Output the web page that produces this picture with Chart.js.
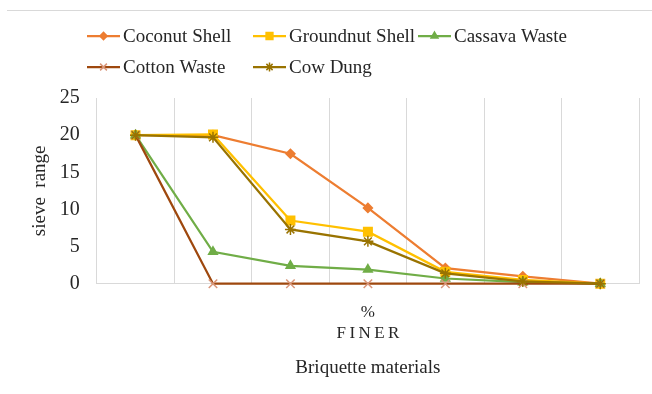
<!DOCTYPE html>
<html>
<head>
<meta charset="utf-8">
<script src="https://cdn.jsdelivr.net/npm/chart.js@4/dist/chart.umd.min.js"></script>
<style>
    body { margin: 0; background: #ffffff; }
    #wrap { position: relative; width: 652px; height: 394px; }
    #top-rule { position: absolute; left: 7px; right: 0; top: 10px; border-top: 1px solid #d9d9d9; }
</style>
</head>
<body>
<div id="wrap">
    <div id="top-rule"></div>
    <canvas id="sieveChart" width="652" height="394"></canvas>
</div>
<script>
"use strict"

// sieve positions (no labels printed under the axis)
let sieveLabels = ['', '', '', '', '', '', ''];

// series values, one per material
let coconutShell = [20, 20, 17.5, 10.2, 2.1, 1.0, 0];
let groundnutShell = [20, 20.1, 8.5, 7.0, 1.6, 0.5, 0];
let cassavaWaste = [20, 4.3, 2.4, 1.9, 0.7, 0.2, 0];
let cottonWaste = [20, 0, 0, 0, 0, 0, 0];
let cowDung = [20, 19.7, 7.3, 5.7, 1.4, 0.3, 0];

// y axis
let yMin = 0;
let yMax = 25;
let yStep = 5;

let serif = "'Liberation Serif', 'Times New Roman', serif";

function makeSeries(label, data, line, marker, style, radius, order)
{
    return {
        label: label,
        data: data,
        borderColor: line,
        backgroundColor: marker,
        pointBackgroundColor: marker,
        pointBorderColor: marker,
        pointStyle: style,
        pointRadius: radius,
        pointBorderWidth: 1.5,
        borderWidth: 2.25,
        tension: 0,
        clip: false,
        order: order
    };
}

let datasets = [
    makeSeries('Coconut Shell', coconutShell, '#ED7D31', '#ED7D31', 'rectRot', 4.5, 4),
    makeSeries('Groundnut Shell', groundnutShell, '#FFC000', '#FFC000', 'rect', 6, 3),
    makeSeries('Cassava Waste', cassavaWaste, '#70AD47', '#70AD47', 'triangle', 5, 2),
    makeSeries('Cotton Waste', cottonWaste, '#9E480E', '#D9967A', 'crossRot', 6, 1),
    makeSeries('Cow Dung', cowDung, '#997300', '#997300', 'star', 5.5, 0)
];

// legend drawn in two rows, Excel style (line through marker)
let legendPlugin = {
    id: 'rowLegend',
    afterDraw: function(chart, args, opts) {
        let ctx = chart.ctx;
        let sets = chart.data.datasets;
        ctx.save();
        ctx.font = opts.size + "px " + serif;
        ctx.textBaseline = 'middle';
        ctx.textAlign = 'left';
        for (let i = 0; i < sets.length; i++)
        {
            let ds = sets[i];
            let x = opts.cols[i % opts.cols.length];
            let y = opts.rows[Math.floor(i / opts.cols.length)];
            ctx.strokeStyle = ds.borderColor;
            ctx.lineWidth = 2.25;
            ctx.beginPath();
            ctx.moveTo(x, y);
            ctx.lineTo(x + opts.lineLength, y);
            ctx.stroke();
            ctx.fillStyle = ds.pointBackgroundColor;
            ctx.strokeStyle = ds.pointBorderColor;
            ctx.lineWidth = 1.5;
            Chart.helpers.drawPoint(ctx, {
                pointStyle: ds.pointStyle,
                radius: ds.pointRadius * 0.8,
                rotation: 0,
                borderWidth: 1.5
            }, x + opts.lineLength / 2, y);
            ctx.fillStyle = '#262626';
            ctx.fillText(ds.label, x + opts.lineLength + 3, y + 1);
        }
        ctx.restore();
    }
};

let ctx = document.getElementById('sieveChart').getContext('2d');
let sieveChart = new Chart(ctx, {
    type: 'line',
    data: {
        labels: sieveLabels,
        datasets: datasets
    },
    plugins: [legendPlugin],
    options: {
        responsive: false,
        animation: false,
        layout: {
            padding: { top: 98, left: 25, right: 13, bottom: 15 }
        },
        plugins: {
            legend: { display: false },
            tooltip: { enabled: false },
            title: {
                display: true,
                fullSize: false,
                position: 'bottom',
                text: 'Briquette materials',
                color: '#262626',
                font: { family: serif, size: 19, weight: 'normal', lineHeight: 1.2 },
                padding: { top: 10, bottom: 0 }
            },
            rowLegend: {
                size: 19,
                cols: [87, 253, 418],
                rows: [36, 67],
                lineLength: 33
            }
        },
        scales: {
            x: {
                offset: true,
                grid: { color: '#d9d9d9', drawTicks: false, offset: true },
                border: { color: '#d9d9d9' },
                ticks: { display: false },
                title: {
                    display: true,
                    text: ['%', 'F\u2009I\u2009N\u2009E\u2009R'],
                    color: '#262626',
                    font: { family: serif, size: 17, lineHeight: 1.25 },
                    padding: { top: 18, bottom: 2 }
                }
            },
            y: {
                min: yMin,
                max: yMax,
                grid: { display: false, drawTicks: false },
                border: { display: false },
                ticks: {
                    stepSize: yStep,
                    padding: 17,
                    color: '#262626',
                    font: { family: serif, size: 20 }
                },
                title: {
                    display: true,
                    text: 'sieve  range',
                    color: '#262626',
                    font: { family: serif, size: 19, lineHeight: 1.2 },
                    padding: { top: 4, bottom: -9 }
                }
            }
        }
    }
});
</script>
</body>
</html>
